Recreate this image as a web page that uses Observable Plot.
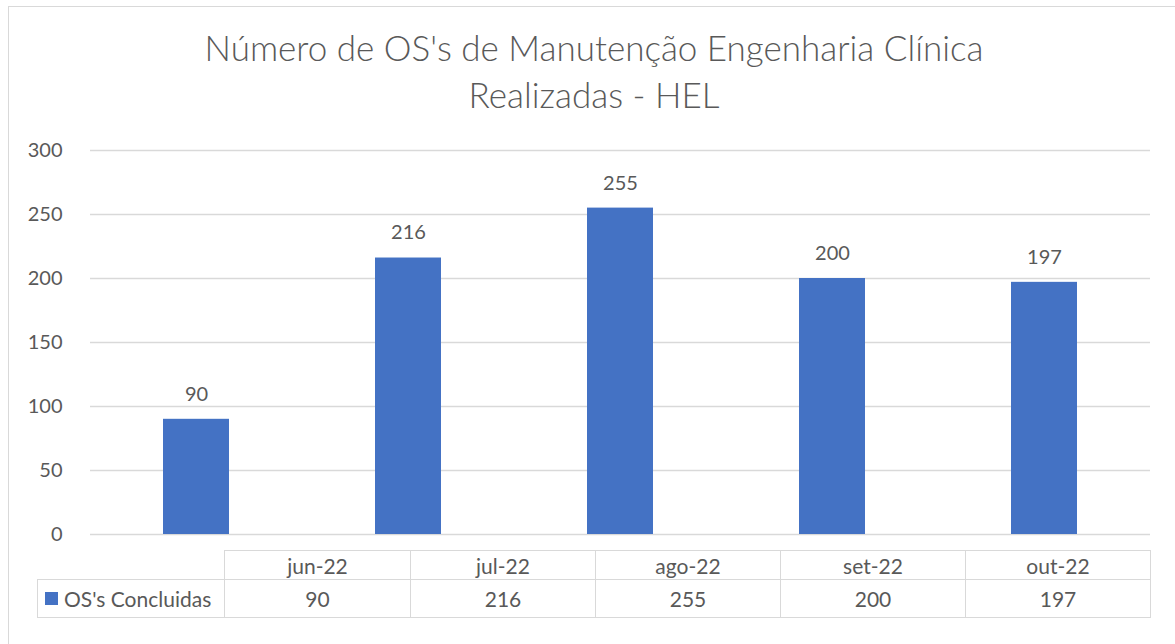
<!DOCTYPE html>
<html>
<head>
<meta charset="utf-8">
<script src="https://cdn.jsdelivr.net/npm/d3@7"></script>
<script src="https://cdn.jsdelivr.net/npm/@observablehq/plot@0.6"></script>
<style>
  html, body { margin: 0; padding: 0; background: #fff; }
  #wrap { position: relative; width: 1175px; height: 644px; overflow: hidden; font-family: Lato, "Open Sans", sans-serif; color: #595959; }
  #frame { position: absolute; left: 8px; top: 6px; width: 1180px; height: 660px; border: 1px solid #D9D9D9; box-sizing: border-box; }
  #title { position: absolute; left: 0; top: 24px; width: 1188px; text-align: center; font-size: 35px; font-weight: 300; line-height: 47px; color: #595959; }
  #chart { position: absolute; left: 0; top: 0; }
  .cell { position: absolute; box-sizing: border-box; border: 1px solid #D9D9D9; font-size: 21px; color: #595959; display: flex; align-items: center; justify-content: center; }
</style>
</head>
<body>
<div id="wrap">
  <div id="frame"></div>
  <div id="title">Número de OS's de Manutenção Engenharia Clínica<br>Realizadas - HEL</div>
  <div id="chart"></div>
  <div id="table"></div>
</div>
<script>
const categories = ["jun-22", "jul-22", "ago-22", "set-22", "out-22"];
const values = [90, 216, 255, 200, 197];
const seriesName = "OS's Concluidas";
const yTicks = [0, 50, 100, 150, 200, 250, 300];

const data = categories.map((c, i) => ({category: c, value: values[i]}));

const chart = Plot.plot({
  width: 1175,
  height: 644,
  marginLeft: 90,
  marginRight: 25,
  marginTop: 150,
  marginBottom: 110,
  style: {background: "transparent", fontFamily: "Lato, 'Open Sans', sans-serif", fontSize: "20px", color: "#595959"},
  x: {domain: categories, paddingInner: 0.69, paddingOuter: 0.345, axis: null},
  y: {domain: [0, 300], ticks: yTicks, tickSize: 0, tickPadding: 28, label: null, grid: false},
  marks: [
    Plot.ruleY(yTicks, {stroke: "#D9D9D9", strokeWidth: 1.3, strokeOpacity: 1}),
    Plot.barY(data, {x: "category", y: "value", fill: "#4472C4"}),
    Plot.text(data, {x: "category", y: "value", text: d => String(d.value), dy: -25, fill: "#595959", fontSize: 20})
  ]
});
chart.style.overflow = "visible";
document.getElementById("chart").appendChild(chart);

// data table below the chart
const table = document.getElementById("table");
const colEdges = [224, 410, 595, 780, 965, 1150];
const rowTop = 550, rowMid = 579, rowBottom = 617;
function addCell(x0, y0, w, h, html) {
  const d = document.createElement("div");
  d.className = "cell";
  d.style.left = x0 + "px";
  d.style.top = y0 + "px";
  d.style.width = (w + 1) + "px";
  d.style.height = (h + 1) + "px";
  d.innerHTML = html;
  table.appendChild(d);
  return d;
}
categories.forEach((c, i) => {
  const x0 = colEdges[i], w = colEdges[i + 1] - colEdges[i];
  addCell(x0, rowTop, w, rowMid - rowTop, c);
  addCell(x0, rowMid, w, rowBottom - rowMid, String(values[i]));
});
const leg = addCell(37, rowMid, colEdges[0] - 37, rowBottom - rowMid,
  '<span style="display:inline-block;width:13px;height:13px;background:#4472C4;margin-right:6px;"></span>' + seriesName);
leg.style.justifyContent = "flex-start";
leg.style.paddingLeft = "7px";
</script>
</body>
</html>
